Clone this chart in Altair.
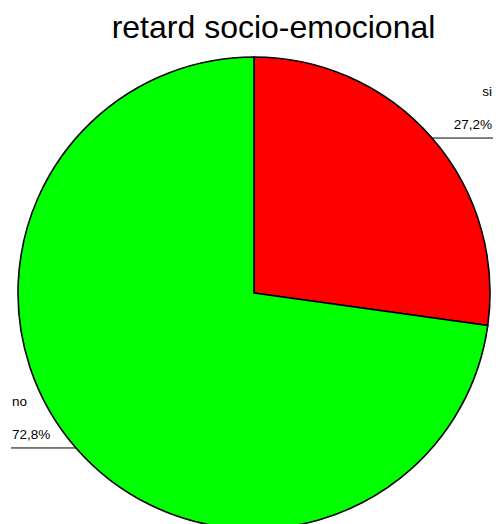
import altair as alt
import pandas as pd

# ---- data ----
categories = ["si", "no"]
percents = [27.2, 72.8]
pct_labels = ["27,2%", "72,8%"]
colors = ["#FF0000", "#00FF00"]
title_text = "retard socio-emocional"

df = pd.DataFrame({
    "cat": categories,
    "pct": percents,
    "lab": pct_labels,
    "ord": list(range(len(categories))),
})

# ---- layout (pixels inside the svg) ----
W, H = 485, 516
CX, CY, R = 246, 285, 236
FONT = "Liberation Sans"

base = alt.Chart(df)

pie = base.mark_arc(radius=R, stroke="black", strokeWidth=1.6).encode(
    theta=alt.Theta("pct:Q", stack=True),
    color=alt.Color("cat:N", scale=alt.Scale(domain=categories, range=colors), legend=None),
    order=alt.Order("ord:Q"),
    x=alt.value(CX),
    y=alt.value(CY),
)

geo = (
    base.transform_joinaggregate(total="sum(pct)")
    .transform_window(cum="sum(pct)", sort=[alt.SortField("ord")], frame=[None, 0])
    .transform_calculate(mid="(datum.cum - datum.pct/2)/datum.total*2*PI")
    .transform_calculate(
        side="sin(datum.mid) > 0 ? 1 : -1",
        ly=f"{CY} - {R}*cos(datum.mid)",
        lx0=f"{CX} + {R}*sin(datum.mid)",
    )
    .transform_calculate(
        lx1=f"datum.side > 0 ? {W} : 3",
        tx=f"datum.side > 0 ? {W - 1} : 4",
        py="datum.ly - 9",
        ny="datum.ly - 42",
    )
)

rules = geo.mark_rule(color="black", strokeWidth=1).encode(
    x=alt.X("lx0:Q", scale=None),
    x2="lx1:Q",
    y=alt.Y("ly:Q", scale=None),
)

def labels(side_filter, align):
    g = geo.transform_filter(side_filter)
    pct = g.mark_text(align=align, baseline="alphabetic", font=FONT, fontSize=13.5, color="black").encode(
        x=alt.X("tx:Q", scale=None), y=alt.Y("py:Q", scale=None), text="lab:N"
    )
    name = g.mark_text(align=align, baseline="alphabetic", font=FONT, fontSize=13.5, color="black").encode(
        x=alt.X("tx:Q", scale=None), y=alt.Y("ny:Q", scale=None), text="cat:N"
    )
    return pct + name

chart = (
    alt.layer(pie, rules, labels("datum.side > 0", "right"), labels("datum.side < 0", "left"))
    .properties(
        width=W,
        height=H,
        autosize=alt.AutoSizeParams(type="none"),
        padding={"left": 0, "top": 0, "right": 0, "bottom": 0},
        title=alt.Title(
            title_text,
            font=FONT,
            fontSize=32,
            fontWeight="normal",
            color="black",
            anchor="middle",
            frame="group",
            dx=23,
            offset=-62,
            baseline="alphabetic",
        ),
    )
    .configure_view(stroke=None, fill=None)
)

chart.save("out.html", embed_options={"renderer": "svg", "actions": False})
